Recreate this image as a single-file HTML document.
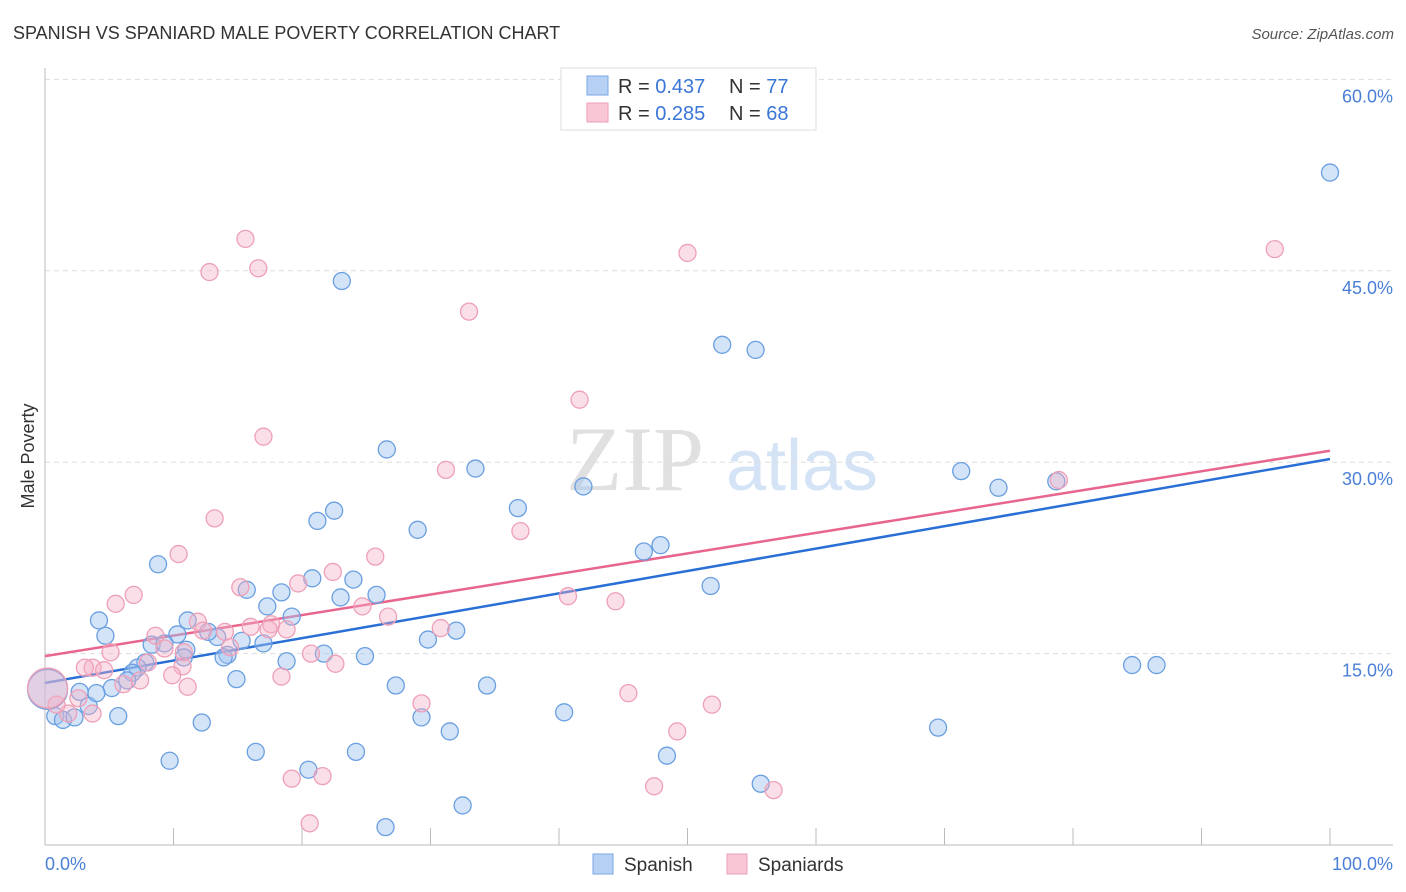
<!DOCTYPE html>
<html><head><meta charset="utf-8"><style>
body{margin:0;background:#fff;font-family:"Liberation Sans",sans-serif;}
svg{display:block}
</style></head><body>
<svg id="chart" width="1406" height="892" xmlns="http://www.w3.org/2000/svg" font-family="Liberation Sans, sans-serif">
<text x="13" y="39" font-size="18" fill="#333">SPANISH VS SPANIARD MALE POVERTY CORRELATION CHART</text>
<text x="1394" y="39" font-size="15" fill="#555" text-anchor="end" font-style="italic">Source: ZipAtlas.com</text>
<g>
<text x="635" y="490" font-size="92" fill="#e0e0e0" font-family="Liberation Serif, serif" text-anchor="middle">ZIP</text>
<text x="802" y="490" font-size="72" fill="#d4e3f5" text-anchor="middle">atlas</text>
</g>
<g id="grid"></g>
<g id="axes"></g>
<g id="trends"></g>
<g id="points"></g>
<text transform="translate(34,456) rotate(-90)" font-size="18" fill="#333" text-anchor="middle">Male Poverty</text>
<text x="45" y="870" font-size="18" fill="#4a7fd6">0.0%</text>
<text x="1393" y="870" font-size="18" fill="#4a7fd6" text-anchor="end">100.0%</text>
<g>
<rect x="561" y="68" width="255" height="62" fill="#fff" stroke="#ddd"/>
<rect x="587" y="76" width="21" height="19" fill="#b7d1f5" stroke="#7aa6e4"/>
<rect x="587" y="103" width="21" height="19" fill="#f9c6d5" stroke="#ee9fb8"/>
<text x="618" y="93" font-size="20" fill="#333">R = <tspan fill="#3a76d6">0.437</tspan><tspan x="729">N = </tspan><tspan fill="#3a76d6">77</tspan></text>
<text x="618" y="120" font-size="20" fill="#333">R = <tspan fill="#3a76d6">0.285</tspan><tspan x="729">N = </tspan><tspan fill="#3a76d6">68</tspan></text>
</g>
<g>
<rect x="593" y="854" width="20" height="20" fill="#b7d1f5" stroke="#7aa6e4"/>
<text x="624" y="871" font-size="19" fill="#333">Spanish</text>
<rect x="727" y="854" width="20" height="20" fill="#f9c6d5" stroke="#ee9fb8"/>
<text x="758" y="871" font-size="19" fill="#333">Spaniards</text>
</g>
</svg>
<script>
const yTicks=[15,30,45,60];
const yTickLabels=["15.0%","30.0%","45.0%","60.0%"];
const xTicks=[0,10,20,30,40,50,60,70,80,90,100];
const blueX=[100,23.1,52.7,55.3,26.6,33.5,41.9,71.3,74.2,78.7,22.5,21.2,36.8,29.0,46.6,47.9,8.8,51.8,24.0,20.8,25.8,23.0,15.7,18.4,17.3,19.2,4.2,11.1,4.7,10.3,13.4,12.7,17.0,15.3,29.8,32.0,8.3,9.3,11.0,10.8,14.2,13.9,21.7,24.9,18.8,7.8,7.2,6.8,6.4,14.9,84.6,86.5,2.7,5.2,27.3,34.4,3.4,4.0,0.8,1.4,2.3,5.7,29.3,40.4,12.2,69.5,31.5,16.4,24.2,48.4,9.7,20.5,55.7,32.5,26.5,0.2];
const blueY=[52.7,44.2,39.2,38.8,31.0,29.5,28.1,29.3,28.0,28.5,26.2,25.4,26.4,24.7,23.0,23.5,22.0,20.3,20.8,20.9,19.6,19.4,20.0,19.8,18.7,17.9,17.6,17.6,16.4,16.5,16.3,16.7,15.8,16.0,16.1,16.8,15.7,15.8,15.3,14.7,14.9,14.7,15.0,14.8,14.4,14.3,13.9,13.5,12.9,13.0,14.1,14.1,12.0,12.3,12.5,12.5,10.9,11.9,10.1,9.8,10.0,10.1,10.0,10.4,9.6,9.2,8.9,7.3,7.3,7.0,6.6,5.9,4.8,3.1,1.4,12.2];
const pinkX=[95.7,50.0,15.6,12.8,16.6,33.0,41.6,17.0,31.2,78.9,13.2,37.0,10.4,25.7,22.4,15.2,19.7,6.9,5.5,40.7,44.4,24.7,26.7,11.9,12.3,8.6,14.0,18.8,17.6,30.8,16.0,17.4,14.4,10.8,9.3,8.0,20.7,22.6,5.1,3.7,3.1,4.6,10.7,9.9,18.4,6.1,7.4,11.1,2.6,45.4,51.9,29.3,3.7,1.8,0.9,49.2,19.2,21.6,47.4,56.7,20.6,0.2];
const pinkY=[46.7,46.4,47.5,44.9,45.2,41.8,34.9,32.0,29.4,28.6,25.6,24.6,22.8,22.6,21.4,20.2,20.5,19.6,18.9,19.5,19.1,18.7,17.9,17.5,16.8,16.4,16.7,16.9,17.3,17.0,17.1,16.9,15.5,15.1,15.4,14.3,15.0,14.2,15.1,13.9,13.9,13.7,14.0,13.3,13.2,12.6,12.9,12.4,11.5,11.9,11.0,11.1,10.3,10.3,11.0,8.9,5.2,5.4,4.6,4.3,1.7,12.3];
const blueTrend=[12.7,30.25];
const pinkTrend=[14.8,30.9];
const NS="http://www.w3.org/2000/svg";
const X0=45,X1=1330,Y0=845,YPX=12.76;
function sx(v){return X0+(X1-X0)*v/100;}
function sy(v){return Y0-v*YPX;}
function mk(tag,attrs,parent){const e=document.createElementNS(NS,tag);for(const k in attrs)e.setAttribute(k,attrs[k]);parent.appendChild(e);return e;}
const grid=document.getElementById('grid'),axes=document.getElementById('axes');
yTicks.forEach((t,i)=>{
  const l=mk('line',{x1:X0,x2:1393,y1:sy(t),y2:sy(t),stroke:'#ddd','stroke-dasharray':'5,4'},grid);
  
  
  const tx=mk('text',{x:1393,y:sy(t)+23,'font-size':18,fill:'#4a7fd6','text-anchor':'end'},grid);
  tx.textContent=yTickLabels[i];
  
  
});
const ya=mk('line',{x1:X0,x2:X0,y1:68,y2:Y0,stroke:'#bbb'},axes);


const xa=mk('line',{x1:X0,x2:1393,y1:Y0,y2:Y0,stroke:'#bbb'},axes);


xTicks.forEach(t=>{
  const tk=mk('line',{x1:sx(t),x2:sx(t),y1:828,y2:Y0,stroke:'#bbb'},axes);
  
  
});
const pts=document.getElementById('points');
function drawPts(xs,ys,fill,stroke,name){
  xs.forEach((x,i)=>{
    const big=(i===xs.length-1);
    const c=mk('circle',{cx:sx(x),cy:sy(ys[i]),r:big?20:8.5,fill:fill,stroke:stroke,'stroke-width':1.3},pts);
    
    
  });
}
drawPts(blueX,blueY,'rgba(160,196,240,0.45)','#6a9fe0','spanish');
drawPts(pinkX,pinkY,'rgba(245,175,198,0.4)','#eea0b8','spaniards');
const tr=document.getElementById('trends');
const bl=mk('line',{x1:sx(0),y1:sy(blueTrend[0]),x2:sx(100),y2:sy(blueTrend[1]),stroke:'#2a6fd6','stroke-width':2.5},tr);


const pl=mk('line',{x1:sx(0),y1:sy(pinkTrend[0]),x2:sx(100),y2:sy(pinkTrend[1]),stroke:'#e8668e','stroke-width':2.5},tr);


</script>
</body></html>
